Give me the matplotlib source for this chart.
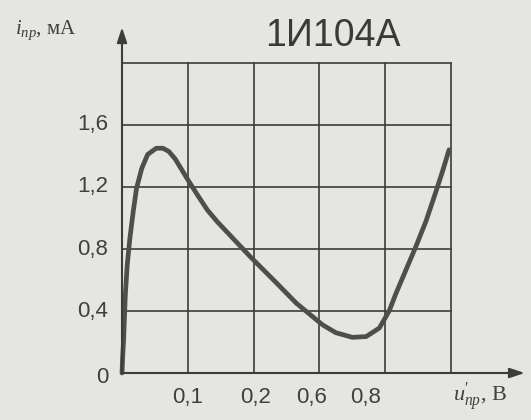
import matplotlib
matplotlib.use("Agg")
import matplotlib.pyplot as plt

# tunnel diode 1I104A, forward branch (grid units on x, mA on y)
curve_x = [0.0, 0.01, 0.025, 0.05, 0.08, 0.12, 0.17, 0.22, 0.30, 0.39, 0.52,
           0.62, 0.71, 0.81, 0.91, 1.01, 1.16, 1.3, 1.45, 1.65, 1.95, 2.15,
           2.35, 2.65, 2.85, 3.05, 3.25, 3.5, 3.71, 3.91, 4.06, 4.16, 4.31,
           4.46, 4.62, 4.77, 4.87, 4.97]
curve_y = [0.0, 0.1, 0.22, 0.5, 0.7, 0.87, 1.04, 1.19, 1.32, 1.41, 1.45,
           1.45, 1.43, 1.38, 1.31, 1.24, 1.14, 1.05, 0.975, 0.885, 0.75, 0.665,
           0.58, 0.45, 0.38, 0.31, 0.26, 0.23, 0.235, 0.29, 0.40, 0.51, 0.66,
           0.81, 0.98, 1.17, 1.30, 1.44]

grid_x = [0, 1, 2, 3, 4, 5]
grid_y = [0, 0.4, 0.8, 1.2, 1.6, 2.0]
y_tick_labels = ['0', '0,4', '0,8', '1,2', '1,6']
x_tick_labels = ['0,1', '0,2', '0,6', '0,8']
x_tick_pos = [1.0, 2.03, 2.88, 3.7]

title = '1И104А'

plt.rcParams['mathtext.fontset'] = 'custom'
plt.rcParams['mathtext.rm'] = 'Liberation Serif'
plt.rcParams['mathtext.it'] = 'Liberation Serif:italic'

ink = '#3c3c3c'
bg = '#e5e5e1'

fig = plt.figure(figsize=(5.31, 4.2), dpi=100, facecolor=bg)
ax = fig.add_axes([122 / 531, 47 / 420, 408 / 531, 356.5 / 420])
ax.set_xlim(0, 6.2)
ax.set_ylim(0, 2.3)
ax.axis('off')

# grid
for gx in grid_x[1:]:
    ax.plot([gx, gx], [0, grid_y[-1]], color=ink, lw=1.2, clip_on=False)
for gy in grid_y[1:]:
    ax.plot([0, grid_x[-1]], [gy, gy], color=ink, lw=1.2, clip_on=False)

# axes with arrows
arrow = dict(arrowstyle='-|>,head_length=0.9,head_width=0.3',
             color=ink, lw=1.5, shrinkA=0, shrinkB=0)
ax.annotate('', xy=(6.12, 0), xytext=(0, 0), arrowprops=arrow,
            annotation_clip=False)
ax.annotate('', xy=(0, 2.23), xytext=(0, 0), arrowprops=arrow,
            annotation_clip=False)

# characteristic
ax.plot(curve_x, curve_y, color='#4e4e4e', lw=3.4, solid_capstyle='round',
        solid_joinstyle='round', clip_on=False)

# tick labels
for gy, lab in zip(grid_y, y_tick_labels):
    dy = -0.03 if lab == '0' else 0
    ax.text(-0.21, gy + dy, lab, ha='right', va='center', fontsize=16,
            family='Liberation Sans', color='#404040')
for px, lab in zip(x_tick_pos, x_tick_labels):
    ax.text(px, -0.155, lab, ha='center', va='center', fontsize=16,
            family='Liberation Sans', color='#404040')

# axis names and title
fig.text(15 / 531, 1 - 30 / 420, r'$i_{пр}$, мА', ha='left', va='center',
         fontsize=15, family='Liberation Serif', color='#404040')
fig.text(453 / 531, 1 - 397 / 420, r"$u^{\prime}_{пр}$, В", ha='left', va='center',
         fontsize=16, family='Liberation Serif', color='#404040')
fig.text(333 / 531, 1 - 36 / 420, title, ha='center', va='center',
         fontsize=27, family='Liberation Sans', color='#3a3a3a')

fig.savefig('out.png', dpi=100, facecolor=bg)
